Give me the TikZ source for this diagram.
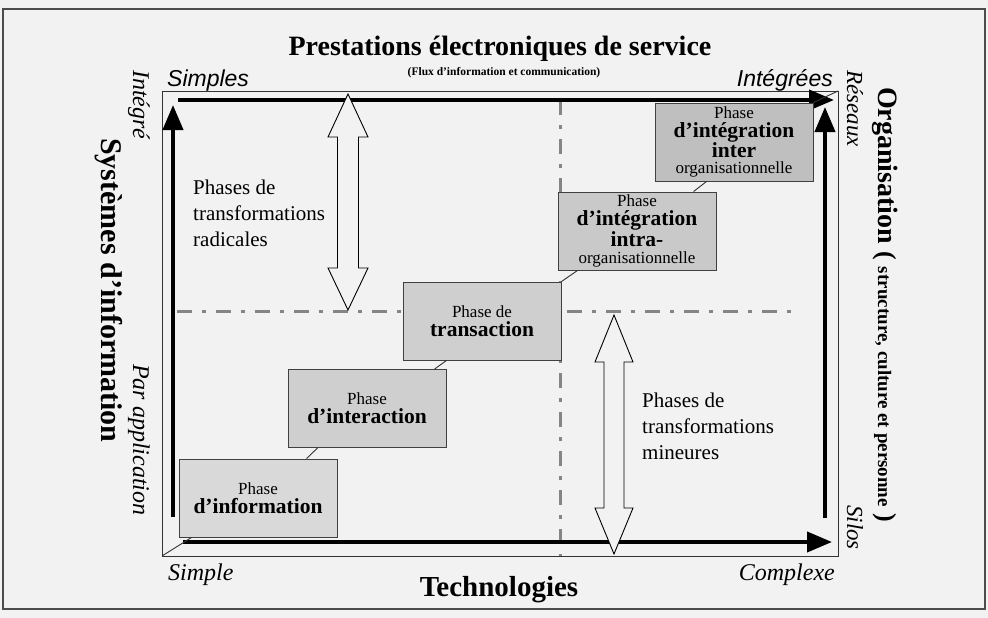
\documentclass[tikz,border=0pt]{standalone}
\usepackage{fontspec}
\setmainfont{Liberation Serif}
\newfontfamily\helvfont{Liberation Sans}
\usetikzlibrary{arrows.meta,calc}

\definecolor{fond}{gray}{0.95}
\definecolor{boite}{gray}{0.80}
\definecolor{tiret}{gray}{0.52}

\newcommand{\gros}{\fontsize{21.5}{19}\selectfont\bfseries}

\tikzset{
  phase/.style={draw=black!75, fill=boite, line width=0.9pt,
    minimum width=158pt, minimum height=78pt, inner sep=0pt,
    align=center, font=\fontsize{17}{19}\selectfont},
  axe/.style={line width=4pt, -{Triangle[length=25pt,width=20pt]}},
  trait/.style={draw=black!80, line width=0.9pt},
  axetiret/.style={draw=tiret, line width=3pt,
    dash pattern=on 15pt off 10pt on 4pt off 10pt},
  fleche/.style={draw=black, fill=fond, line width=0.9pt},
  coin/.style={font=\fontsize{24}{26}\selectfont\itshape},
  vertical/.style={rotate=-90, anchor=base west},
  phrase/.style={align=left, anchor=base west,
    font=\fontsize{21}{26}\selectfont}
}

\begin{document}
\begin{tikzpicture}[x=1pt, y=-1pt]
  \useasboundingbox (0,0) rectangle (988,618);
  \fill[fond] (0,0) rectangle (988,618);
  \draw[black!70, line width=1.2pt] (3,9) rectangle (985,609);

  \coordinate (coinbg) at (162,556);
  \coordinate (coinhd) at (838,91);
  \draw[trait] (coinbg) rectangle (coinhd);

  % les deux axes en pointilles
  \draw[axetiret] (177,311) -- (800,311);
  \draw[axetiret] (560,100) -- (560,556);

  % les quatre axes
  \draw[axe] (173,517) -- (173,105);
  \draw[axe] (178,100) -- (834,100);
  \draw[axe] (183,542) -- (832,542);
  \draw[axe] (825,518) -- (825,107);

  % fleches doubles
  \draw[fleche] (348,94) -- (368,137) -- (358.5,137) -- (358.5,268) -- (368,268)
    -- (348,310) -- (328,268) -- (337.5,268) -- (337.5,137) -- (328,137) -- cycle;
  \draw[fleche] (614,315) -- (633,362) -- (624,362) -- (624,508) -- (633,508)
    -- (614,554) -- (595,508) -- (604,508) -- (604,362) -- (595,362) -- cycle;

  % les phases
  \node[phase, fill=black!15] (info) at (258,498) {Phase\\{\gros d’information}};
  \node[phase, fill=black!19] (interaction) at (367,408.5) {Phase\\{\gros d’interaction}};
  \node[phase, fill=black!19] (transaction) at (482,321) {Phase de\\{\gros transaction}};
  \node[phase, fill=black!21] (intra) at (637,231)
    {Phase\\{\gros d’intégration}\\{\gros intra-}\\[-2pt]organisationnelle};
  \node[phase, fill=black!25] (inter) at (734,142)
    {Phase\\{\gros d’intégration}\\{\gros inter}\\[-3pt]organisationnelle};

  \draw[trait] (coinbg) -- ($(info.south west)+(13,0)$);
  \draw[trait] ($(info.north west)+(128,0)$) -- ($(interaction.south west)+(30,0)$);
  \draw[trait] ($(interaction.north west)+(147,0)$) -- ($(transaction.south west)+(44,0)$);
  \draw[trait] (transaction.north east) -- ($(intra.south west)+(20,0)$);
  \draw[trait] ($(intra.north west)+(136,0)$) -- ($(inter.south west)+(52,0)$);
  \draw[trait] (inter.north east) -- (coinhd);

  % textes
  \node[anchor=base, font=\fontsize{28}{30}\selectfont\bfseries] (titre) at (500,56)
    {Prestations électroniques de service};
  \node[anchor=base, font=\fontsize{11.5}{13}\selectfont\bfseries] (flux) at (504,76)
    {(Flux d’information et communication)};
  \node[anchor=base west, inner sep=0pt, font=\fontsize{23}{25}\helvfont\itshape] (simples) at (167,86) {Simples};
  \node[anchor=base east, inner sep=0pt, font=\fontsize{23}{25}\helvfont\itshape] (integrees) at (833,86) {Intégrées};
  \node[coin, anchor=base west, inner sep=0pt] (simple) at (168,580) {Simple};
  \node[coin, anchor=base east, inner sep=0pt] (complexe) at (835,580) {Complexe};
  \node[anchor=base, font=\fontsize{29}{31}\selectfont\bfseries] (techno) at (499,596) {Technologies};

  \node[coin, vertical, inner sep=0pt] (integre) at (133,70) {Intégré};
  \node[coin, vertical, inner sep=0pt] (parappli) at (133,364) {Par application};
  \node[vertical, inner sep=0pt, font=\fontsize{30}{32}\selectfont\bfseries] (si) at (101,138)
    {Systèmes d’information};

  \node[coin, vertical, inner sep=0pt, font=\fontsize{23}{25}\selectfont\itshape] (reseaux) at (847,70) {Réseaux};
  \node[coin, vertical, inner sep=0pt, font=\fontsize{23}{25}\selectfont\itshape] (silos) at (847,505) {Silos};
  \node[vertical, inner sep=0pt, font=\fontsize{28}{30}\selectfont\bfseries] (orga) at (878,87)
    {Organisation {\fontsize{26}{28}\selectfont(} {\fontsize{19}{21}\selectfont structure, culture et personne} {\fontsize{26}{28}\selectfont)}};

  \node[phrase, inner sep=0pt] (radicales) at (193,246) {Phases de\\transformations\\radicales};
  \node[phrase, inner sep=0pt] (mineures) at (642,459) {Phases de\\transformations\\mineures};
\end{tikzpicture}
\end{document}
